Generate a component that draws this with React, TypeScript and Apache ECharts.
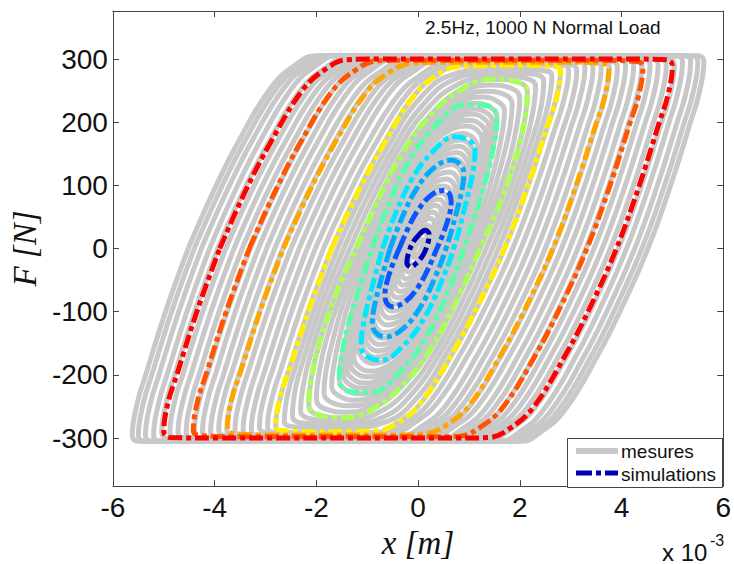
import React, { useEffect, useRef } from "react";
import * as echarts from "echarts";

// ---------- axes ----------
const xTickValues = [-6, -4, -2, 0, 2, 4, 6]; // x 10^-3 m
const yTickValues = [-300, -200, -100, 0, 100, 200, 300];
const X_MIN = -6;
const X_MAX = 6;
const Y_MIN = -376;
const Y_MAX = 376;

// ---------- simulations: half loops [x (1e-3 m), F (N)], left turning point -> up -> right turning point ----------
const simDarkBlue = [[-0.22, -22], [-0.19, -8], [-0.1, 10], [0.02, 22], [0.14, 29], [0.22, 22]];
const simBlue = [[-0.65, -72], [-0.62, -55], [-0.5, -25], [-0.37, 0], [-0.18, 35], [0, 61], [0.25, 84], [0.5, 92], [0.62, 86], [0.65, 72]];
const simAzure = [[-0.9, -118], [-0.86, -92], [-0.73, -50], [-0.55, 0], [-0.32, 48], [-0.05, 92], [0.3, 127], [0.65, 140], [0.84, 132], [0.9, 118]];
const simCyan = [[-1.12, -155], [-1.08, -122], [-0.94, -72], [-0.7, 0], [-0.44, 56], [-0.12, 110], [0.28, 153], [0.72, 177], [1.02, 170], [1.12, 155]];
const simMint = [[-1.55, -208], [-1.5, -168], [-1.33, -108], [-0.9, 0], [-0.58, 70], [-0.15, 142], [0.35, 195], [0.92, 228], [1.36, 226], [1.55, 208]];
const simLime = [[-2.15, -248], [-2.1, -205], [-1.94, -150], [-1.64, -78], [-1.22, 0], [-0.78, 78], [-0.3, 152], [0.25, 212], [0.85, 252], [1.45, 268], [1.98, 263], [2.15, 248]];
const simYellow = [[-2.8, -282], [-2.72, -237], [-2.54, -193], [-2.15, -97], [-1.7, 0], [-1.2, 87], [-0.7, 162], [-0.06, 244], [0.4, 276], [0.8, 288], [2.0, 290], [2.68, 288], [2.8, 282]];
const simOrange = [[-3.75, -285], [-3.67, -240], [-3.49, -195], [-3.1, -98], [-2.65, 0], [-2.15, 88], [-1.65, 165], [-1.01, 248], [-0.55, 280], [-0.15, 293], [0.4, 295], [2.9, 295], [3.63, 293], [3.75, 285]];
const simDarkOrange = [[-4.42, -288], [-4.34, -243], [-4.16, -197], [-3.77, -99], [-3.32, 0], [-2.82, 89], [-2.32, 167], [-1.68, 250], [-1.22, 283], [-0.82, 297], [-0.3, 298], [3.5, 298], [4.3, 296], [4.42, 288]];
const simRed = [[-5.0, -290], [-4.92, -245], [-4.74, -199], [-4.35, -100], [-3.9, 0], [-3.4, 90], [-2.9, 168], [-2.26, 252], [-1.8, 285], [-1.4, 299], [-0.8, 300], [4.0, 300], [4.88, 299], [5.0, 290]];

const simHalves = [simDarkBlue, simBlue, simAzure, simCyan, simMint, simLime, simYellow, simOrange, simDarkOrange, simRed];
const simColors = ["#0000b4", "#0a55ff", "#00aaff", "#00e8ff", "#55ffaa", "#aaff55", "#ffee00", "#ffa500", "#ff5500", "#ff0000"];

// ---------- measurements: small loops (half loops) ----------
const mesInner = [
  [[-0.1, -11], [-0.09, -7], [-0.06, 0], [-0.02, 7], [0.03, 12], [0.08, 14], [0.1, 11]],
  [[-0.18, -21], [-0.17, -14], [-0.11, 0], [-0.04, 13], [0.05, 23], [0.14, 26], [0.18, 21]],
  [[-0.25, -30], [-0.23, -20], [-0.15, 0], [-0.05, 18], [0.08, 33], [0.19, 37], [0.25, 30]],
  [[-0.32, -39], [-0.3, -26], [-0.19, 0], [-0.06, 24], [0.1, 42], [0.24, 48], [0.32, 39]],
  [[-0.39, -48], [-0.36, -32], [-0.23, 0], [-0.08, 29], [0.12, 51], [0.29, 58], [0.39, 48]],
  [[-0.46, -56], [-0.43, -37], [-0.28, 0], [-0.09, 34], [0.14, 60], [0.35, 68], [0.46, 56]],
  [[-0.53, -64], [-0.49, -43], [-0.32, 0], [-0.11, 39], [0.16, 69], [0.4, 78], [0.53, 64]],
  [[-0.6, -72], [-0.56, -48], [-0.36, 0], [-0.12, 44], [0.18, 77], [0.45, 88], [0.6, 72]],
  [[-0.67, -81], [-0.62, -54], [-0.4, 0], [-0.13, 50], [0.2, 87], [0.5, 99], [0.67, 81]],
  [[-0.74, -90], [-0.69, -60], [-0.44, 0], [-0.15, 55], [0.22, 97], [0.56, 110], [0.74, 90]],
  [[-0.81, -99], [-0.75, -66], [-0.49, 0], [-0.16, 61], [0.24, 107], [0.61, 121], [0.81, 99]],
  [[-0.88, -109], [-0.82, -73], [-0.53, 0], [-0.18, 67], [0.26, 117], [0.66, 133], [0.88, 109]],
  [[-0.94, -117], [-0.87, -78], [-0.56, 0], [-0.19, 71], [0.28, 125], [0.7, 142], [0.94, 117]],
  [[-1, -125], [-0.93, -84], [-0.6, 0], [-0.2, 76], [0.3, 134], [0.75, 152], [1, 125]],
  [[-1.06, -133], [-0.98, -89], [-0.64, 0], [-0.21, 81], [0.32, 142], [0.8, 162], [1.06, 133]],
  [[-1.12, -141], [-1.04, -95], [-0.67, 0], [-0.22, 86], [0.34, 151], [0.84, 172], [1.12, 141]],
  [[-1.19, -152], [-1.11, -102], [-0.72, 0], [-0.24, 91], [0.36, 160], [0.89, 182], [1.19, 152]],
];

const mesMiddle = [
  [[-1.26, -172], [-1.24, -150], [-1.15, -112], [-0.99, -57], [-0.77, 0], [-0.49, 61], [-0.13, 120], [0.3, 167], [0.67, 189], [0.95, 194], [1.18, 186], [1.26, 172]],
  [[-1.33, -181], [-1.3, -157], [-1.21, -117], [-1.04, -60], [-0.8, 0], [-0.51, 63], [-0.13, 125], [0.31, 174], [0.7, 197], [1.0, 203], [1.25, 195], [1.33, 181]],
  [[-1.4, -190], [-1.37, -165], [-1.27, -123], [-1.09, -63], [-0.83, 0], [-0.53, 65], [-0.14, 131], [0.33, 181], [0.73, 205], [1.05, 213], [1.32, 204], [1.4, 190]],
  [[-1.47, -199], [-1.44, -172], [-1.33, -129], [-1.14, -66], [-0.86, 0], [-0.55, 67], [-0.14, 136], [0.34, 188], [0.76, 213], [1.1, 221], [1.38, 213], [1.47, 199]],
  [[-1.55, -208], [-1.52, -180], [-1.4, -135], [-1.2, -70], [-0.9, 0], [-0.58, 70], [-0.15, 142], [0.35, 195], [0.8, 222], [1.15, 230], [1.45, 222], [1.55, 208]],
  [[-1.7, -218], [-1.66, -186], [-1.54, -139], [-1.31, -72], [-0.98, 0], [-0.63, 72], [-0.19, 145], [0.32, 199], [0.81, 230], [1.24, 240], [1.58, 232], [1.7, 218]],
  [[-1.85, -228], [-1.81, -193], [-1.67, -143], [-1.42, -74], [-1.06, 0], [-0.68, 74], [-0.23, 147], [0.3, 204], [0.83, 237], [1.3, 249], [1.72, 243], [1.85, 228]],
  [[-2.0, -238], [-1.95, -199], [-1.81, -146], [-1.53, -76], [-1.14, 0], [-0.73, 76], [-0.26, 150], [0.27, 208], [0.84, 245], [1.38, 259], [1.85, 253], [2.0, 238]],
  [[-2.15, -248], [-2.1, -205], [-1.94, -150], [-1.64, -78], [-1.22, 0], [-0.78, 78], [-0.3, 152], [0.25, 212], [0.85, 252], [1.45, 268], [1.98, 263], [2.15, 248]],
  [[-2.31, -257], [-2.25, -213], [-2.09, -161], [-1.77, -83], [-1.34, 0], [-0.89, 80], [-0.4, 155], [0.17, 220], [0.79, 260], [1.49, 274], [2.14, 269], [2.31, 257]],
  [[-2.47, -265], [-2.41, -221], [-2.24, -172], [-1.9, -88], [-1.46, 0], [-0.99, 83], [-0.5, 157], [0.1, 228], [0.72, 268], [1.52, 279], [2.29, 276], [2.47, 265]],
  [[-2.63, -274], [-2.56, -229], [-2.39, -182], [-2.02, -92], [-1.58, 0], [-1.1, 85], [-0.6, 160], [0.02, 236], [0.66, 275], [1.56, 285], [2.45, 282], [2.63, 274]],
];

// ---------- measurements: large (saturated) loops, x positions and force levels of each half loop ----------
const fSatLow = [-282, -233, -192, -96, 0, 87, 163, 244, 276, 291, 291, 282];
const fSatMid = [-287, -237, -195, -98, 0, 89, 166, 249, 281, 296, 296, 287];
const fSat = [-291, -240, -198, -99, 0, 90, 168, 252, 285, 300, 300, 291];
const fSatHigh = [-296, -244, -201, -101, 0, 91, 171, 256, 290, 305, 305, 296];

const mesOuterX = [
  [-2.8, -2.7, -2.54, -2.15, -1.7, -1.2, -0.7, -0.06, 0.4, 0.8, 2.68, 2.8],
  [-2.96, -2.86, -2.7, -2.31, -1.86, -1.36, -0.86, -0.22, 0.24, 0.64, 2.84, 2.96],
  [-3.12, -3.02, -2.86, -2.47, -2.02, -1.52, -1.02, -0.38, 0.08, 0.48, 3.0, 3.12],
  [-3.28, -3.18, -3.02, -2.63, -2.18, -1.68, -1.18, -0.54, -0.08, 0.32, 3.16, 3.28],
  [-3.44, -3.34, -3.18, -2.79, -2.34, -1.84, -1.34, -0.7, -0.24, 0.16, 3.32, 3.44],
  [-3.6, -3.5, -3.34, -2.95, -2.5, -2.0, -1.5, -0.86, -0.4, 0.0, 3.48, 3.6],
  [-3.76, -3.66, -3.5, -3.11, -2.66, -2.16, -1.66, -1.02, -0.56, -0.16, 3.64, 3.76],
  [-3.92, -3.82, -3.66, -3.27, -2.82, -2.32, -1.82, -1.18, -0.72, -0.32, 3.8, 3.92],
  [-4.08, -3.98, -3.82, -3.43, -2.98, -2.48, -1.98, -1.34, -0.88, -0.48, 3.96, 4.08],
  [-4.24, -4.14, -3.98, -3.59, -3.14, -2.64, -2.14, -1.5, -1.04, -0.64, 4.12, 4.24],
  [-4.4, -4.3, -4.14, -3.75, -3.3, -2.8, -2.3, -1.66, -1.2, -0.8, 4.28, 4.4],
  [-4.56, -4.46, -4.3, -3.91, -3.46, -2.96, -2.46, -1.82, -1.36, -0.96, 4.44, 4.56],
  [-4.72, -4.62, -4.46, -4.07, -3.62, -3.12, -2.62, -1.98, -1.52, -1.12, 4.6, 4.72],
  [-4.88, -4.78, -4.62, -4.23, -3.78, -3.28, -2.78, -2.14, -1.68, -1.28, 4.76, 4.88],
  [-5.04, -4.94, -4.78, -4.39, -3.94, -3.44, -2.94, -2.3, -1.84, -1.44, 4.92, 5.04],
  [-5.2, -5.1, -4.94, -4.55, -4.1, -3.6, -3.1, -2.46, -2.0, -1.6, 5.08, 5.2],
  [-5.36, -5.26, -5.1, -4.71, -4.26, -3.76, -3.26, -2.62, -2.16, -1.76, 5.24, 5.36],
  [-5.5, -5.4, -5.24, -4.85, -4.4, -3.9, -3.4, -2.76, -2.3, -1.9, 5.38, 5.5],
  [-5.62, -5.52, -5.36, -4.97, -4.52, -4.02, -3.52, -2.88, -2.42, -2.02, 5.5, 5.62],
];
const mesOuterF = [
  fSatLow, fSatLow, fSatLow,
  fSatMid, fSatMid, fSatMid, fSatMid, fSatMid,
  fSat, fSat, fSat, fSat, fSat, fSat, fSat,
  fSatHigh, fSatHigh, fSatHigh, fSatHigh,
];

// ---------- texts ----------
const titleText = "2.5Hz, 1000 N Normal Load";
const xName = "x [m]";
const yName = "F [N]";
const xScaleText = "x 10";
const xScaleExp = "-3";
const legendNames = ["mesures", "simulations"];

const GRAY = "#c8c8c8";
const SIM_DASH = [14, 4, 5, 4];
const SANS = "Liberation Sans, Arial, sans-serif";
const SERIF = "Liberation Serif, Times New Roman, serif";

// close a half loop with its point-reflected half, starting on the F = 0 crossing
function fullLoop(half: number[][]): number[][] {
  const n = half.length;
  const cyc = half.concat(half.slice(1, n - 1).map(([x, y]) => [-x, -y]));
  let k = half.findIndex((p) => p[1] === 0);
  if (k < 0) k = Math.floor(n / 2);
  const rot = cyc.slice(k).concat(cyc.slice(0, k));
  rot.push(rot[0]);
  return rot;
}

function textEl(text: string, x: number, y: number, size: number, z = 100) {
  return {
    type: "text",
    x,
    y,
    z,
    style: {
      text,
      fontSize: size,
      fontFamily: SANS,
      fill: "#111",
      align: "left",
      verticalAlign: "middle",
      textAlign: "left",
      textVerticalAlign: "middle",
    },
  };
}

export default function App() {
  const ref = useRef<HTMLDivElement>(null);

  useEffect(() => {
    if (!ref.current) return;
    const chart = echarts.init(ref.current, undefined, { renderer: "svg" });

    const mesHalves: number[][][] = [
      ...mesInner,
      ...mesMiddle,
      ...mesOuterX.map((xs, i) => xs.map((x, j) => [x, mesOuterF[i][j]])),
    ];

    const series: any[] = [];
    mesHalves.forEach((half) => {
      series.push({
        type: "line",
        name: legendNames[0],
        data: fullLoop(half),
        smooth: 0.45,
        symbol: "none",
        silent: true,
        lineStyle: { color: GRAY, width: 5, join: "round" },
        z: 2,
      });
    });
    simHalves.forEach((half, i) => {
      series.push({
        type: "line",
        name: legendNames[1],
        data: fullLoop(half),
        smooth: 0.4,
        symbol: "none",
        silent: true,
        lineStyle: { color: simColors[i], width: 5, type: SIM_DASH },
        z: 3,
      });
    });

    const axisLineStyle = { color: "#444", width: 1 };
    const labelFont = { fontFamily: SANS, fontSize: 28, color: "#111" };

    chart.setOption({
      animation: false,
      backgroundColor: "#ffffff",
      grid: { left: 112, right: 5, top: 11, bottom: 70, containLabel: false },
      xAxis: [
        {
          type: "value",
          min: X_MIN,
          max: X_MAX,
          interval: 2,
          position: "bottom",
          name: xName,
          nameLocation: "middle",
          nameGap: 38,
          nameTextStyle: { fontFamily: SERIF, fontStyle: "italic", fontSize: 33, color: "#111" },
          axisLine: { show: true, onZero: false, lineStyle: axisLineStyle },
          axisTick: { show: true, inside: true, length: 6, lineStyle: axisLineStyle, customValues: xTickValues },
          axisLabel: { show: true, margin: 7, ...labelFont, customValues: xTickValues },
          splitLine: { show: false },
        },
        {
          type: "value",
          min: X_MIN,
          max: X_MAX,
          interval: 2,
          position: "top",
          axisLine: { show: true, onZero: false, lineStyle: axisLineStyle },
          axisTick: { show: true, inside: true, length: 6, lineStyle: axisLineStyle, customValues: xTickValues },
          axisLabel: { show: false },
          splitLine: { show: false },
        },
      ],
      yAxis: [
        {
          type: "value",
          min: Y_MIN,
          max: Y_MAX,
          position: "left",
          name: yName,
          nameLocation: "middle",
          nameGap: 60,
          nameTextStyle: { fontFamily: SERIF, fontStyle: "italic", fontSize: 33, color: "#111" },
          axisLine: { show: true, onZero: false, lineStyle: axisLineStyle },
          axisTick: { show: true, inside: true, length: 6, lineStyle: axisLineStyle, customValues: yTickValues },
          axisLabel: { show: true, margin: 5, ...labelFont, customValues: yTickValues },
          splitLine: { show: false },
        },
        {
          type: "value",
          min: Y_MIN,
          max: Y_MAX,
          position: "right",
          axisLine: { show: true, onZero: false, lineStyle: axisLineStyle },
          axisTick: { show: true, inside: true, length: 6, lineStyle: axisLineStyle, customValues: yTickValues },
          axisLabel: { show: false },
          splitLine: { show: false },
        },
      ],
      series,
      graphic: [
        textEl(titleText, 425, 27, 19),
        textEl(xScaleText, 662, 552, 24),
        textEl(xScaleExp, 710, 540, 16),
        {
          type: "rect",
          z: 100,
          shape: { x: 567.5, y: 438.5, width: 155, height: 49 },
          style: { fill: "#ffffff", stroke: "#444", lineWidth: 1 },
        },
        {
          type: "line",
          z: 101,
          shape: { x1: 576, y1: 451, x2: 618, y2: 451 },
          style: { stroke: GRAY, lineWidth: 6 },
        },
        {
          type: "line",
          z: 101,
          shape: { x1: 576, y1: 473, x2: 618, y2: 473 },
          style: { stroke: simColors[0], lineWidth: 5, lineDash: [16, 4, 5, 4] },
        },
        textEl(legendNames[0], 621, 451, 19, 101),
        textEl(legendNames[1], 621, 474, 19, 101),
      ],
    });

    return () => {
      chart.dispose();
    };
  }, []);

  return (
    <div
      ref={ref}
      style={{ position: "fixed", left: 0, top: 0, width: 734, height: 564, background: "#fff" }}
    />
  );
}
